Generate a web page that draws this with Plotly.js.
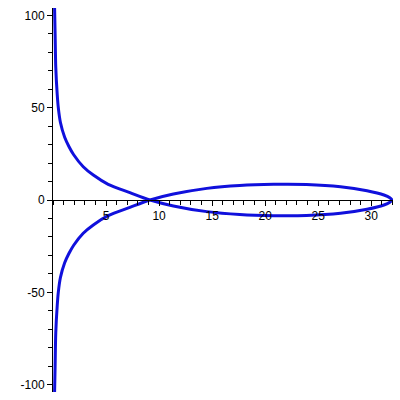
<!DOCTYPE html>
<html>
<head>
<meta charset="utf-8">
<script src="https://cdn.plot.ly/plotly-3.0.1.min.js"></script>
<style>html,body{margin:0;padding:0;background:#fff;}#chart{width:400px;height:400px;}</style>
</head>
<body>
<div id="chart"></div>
<script>
// Curve points (traversed: top branch -> lower loop side -> tip -> upper loop side -> bottom branch)
var curveX = [0.15, 0.2, 0.26, 0.4, 0.5, 0.7, 1.1, 1.5, 1.95, 2.85, 3.8, 5.2, 7.25, 9.15,
              11.35, 14.5, 17.6, 20.8, 23.9, 27.1, 29.6, 31.2, 31.75, 31.95,
              31.75, 31.2, 29.6, 27.1, 23.9, 20.8, 17.6, 14.5, 11.35, 9.15,
              7.25, 5.2, 3.8, 2.85, 1.95, 1.5, 1.1, 0.7, 0.5, 0.4, 0.26, 0.2, 0.15];
var curveY = [104, 90, 72, 57, 50, 42, 34, 29, 24.5, 18, 13.5, 8.5, 4.0, 0,
              -3.2, -6.3, -7.9, -8.5, -8.4, -7.2, -5.0, -2.7, -1.2, 0,
              1.2, 2.7, 5.0, 7.2, 8.4, 8.5, 7.9, 6.3, 3.2, 0,
              -4.0, -8.5, -13.5, -18, -24.5, -29, -34, -42, -50, -57, -72, -90, -104];
var xTickVals = [5, 10, 15, 20, 25, 30];
var xTickText = ["5", "10", "15", "20", "25", "30"];
var yTickVals = [-100, -50, 0, 50, 100];
var yTickText = ["-100", "-50", "0", "50", "100"];

var trace = {
  x: curveX, y: curveY, type: 'scatter', mode: 'lines',
  line: {color: '#1010dc', width: 3, shape: 'spline', smoothing: 0.8},
  hoverinfo: 'skip'
};
var font = {family: 'Liberation Sans, Arial, sans-serif', size: 12, color: '#000'};
var layout = {
  width: 400, height: 400,
  margin: {l: 53, r: 7, t: 8, b: 8},
  paper_bgcolor: '#fff', plot_bgcolor: '#fff',
  showlegend: false,
  font: font,
  xaxis: {
    range: [0, 32.05], anchor: 'free', position: 0.5,
    showline: true, linecolor: '#000', linewidth: 1,
    showgrid: false, zeroline: false,
    tickmode: 'array', tickvals: xTickVals, ticktext: xTickText,
    ticks: 'outside', ticklen: 5, tickcolor: '#000', tickwidth: 1,
    minor: {tick0: 0, dtick: 1, ticks: 'outside', ticklen: 4, tickcolor: '#000', showgrid: false},
    tickfont: font, fixedrange: true
  },
  yaxis: {
    range: [-104, 104],
    showline: true, linecolor: '#000', linewidth: 1,
    showgrid: false, zeroline: false,
    tickmode: 'array', tickvals: yTickVals, ticktext: yTickText,
    ticks: 'outside', ticklen: 5, tickcolor: '#000', tickwidth: 1,
    minor: {tick0: 0, dtick: 10, ticks: 'outside', ticklen: 4, tickcolor: '#000', showgrid: false},
    tickfont: font, fixedrange: true
  }
};
Plotly.newPlot('chart', [trace], layout, {staticPlot: true, displayModeBar: false});
</script>
</body>
</html>
